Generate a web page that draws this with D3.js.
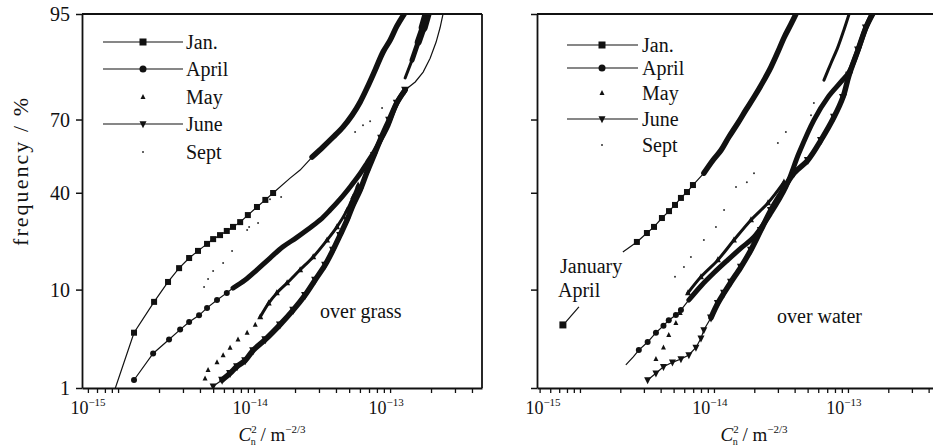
<!DOCTYPE html>
<html><head><meta charset="utf-8">
<script src="https://cdn.jsdelivr.net/npm/d3@7"></script>
<style>body{margin:0;background:#fff}svg{display:block}</style>
</head><body><script>
// ---------------- DATA (C2n in m^-2/3, cumulative frequency in %) ----------------
const yTicks = [1, 10, 40, 70, 95];
const xLabelExps = [-15, -14, -13];
const legendNames = ["Jan.", "April", "May", "June", "Sept"];
const seriesKeys = ["jan", "april", "may", "june", "sept"];

// over grass
const grassJanPlain = [[8.9e-16,0.7],[1.84e-14,46.1],[2.18e-14,49.5]];
const grassJanMarks = [[1.31e-15,4.1],[1.84e-15,7.9],[2.33e-15,11.5],[2.81e-15,14.6],[3.33e-15,17.2],[3.87e-15,19.2],[4.51e-15,21.3],[5.0e-15,22.8],[5.62e-15,24.1],[6.3e-15,25.5],[7.0e-15,26.9],[7.9e-15,28.6],[9.0e-15,31.2],[1.05e-14,34.3],[1.21e-14,37.1],[1.38e-14,39.9]];
const grassJanBand = [[2.67e-14,55.0],[3.21e-14,59.2],[3.81e-14,63.2],[4.51e-14,67.2],[5.26e-14,71.6],[6.02e-14,76.1],[6.77e-14,80.5],[7.76e-14,85.3],[8.89e-14,89.3],[1.0e-13,91.4],[1.12e-13,93.5],[1.27e-13,95]];

const grassAprilMarks = [[1.31e-15,1.25],[1.81e-15,2.5],[2.37e-15,3.5],[2.86e-15,4.4],[3.33e-15,5.2],[3.94e-15,6.0],[4.51e-15,7.0],[5.34e-15,8.2],[6.3e-15,9.4]];
const grassAprilBand = [[7.0e-15,10.3],[8.59e-15,11.9],[1.05e-14,14.2],[1.31e-14,17.2],[1.63e-14,20.4],[2.04e-14,23.2],[2.45e-14,25.8],[3.06e-14,29.4],[3.62e-14,33.1],[4.29e-14,37.4],[5.08e-14,42.4],[5.92e-14,47.4],[6.77e-14,52.5],[7.76e-14,57.9],[8.73e-14,63.2],[9.67e-14,67.9],[1.12e-13,75.8],[1.29e-13,79.9]];

const grassMayMarks = [[4.36e-15,1.3],[4.59e-15,1.64],[5.34e-15,2.0],[5.92e-15,2.4],[6.66e-15,2.87],[7.62e-15,3.5],[8.89e-15,4.1],[1.02e-14,4.9]];
const grassMayBand = [[1.11e-14,5.8],[1.28e-14,7.7],[1.47e-14,9.4],[1.75e-14,11.3],[2.18e-14,14.2],[2.72e-14,17.5],[3.44e-14,22.5],[4.07e-14,26.9],[4.83e-14,33.1],[5.35e-14,38.3],[5.82e-14,43.2]];

const grassJuneMarks = [[5.0e-15,1.05]];
const grassJuneBand = [[5.82e-15,1.25],[6.66e-15,1.5],[7.5e-15,1.8],[8.6e-15,2.1],[9.84e-15,2.7],[1.21e-14,3.5],[1.55e-14,4.9],[1.94e-14,6.7],[2.37e-14,9.0],[2.81e-14,11.9],[3.33e-14,15.4],[3.81e-14,19.5],[4.29e-14,24.1],[4.83e-14,29.4],[5.35e-14,35.1],[6.02e-14,41.1],[6.77e-14,48.7],[7.62e-14,55.8],[8.59e-14,62.9],[9.84e-14,69.8],[1.12e-13,75.8],[1.29e-13,79.9]];
const grassJunePlain = [[1.53e-13,82.2],[1.75e-13,84.8],[1.97e-13,88.0],[2.18e-13,91.1],[2.33e-13,93.3],[2.45e-13,95]];

const grassSeptMarks = [[4.29e-15,10.5],[4.59e-15,12.1],[5.0e-15,13.9],[5.92e-15,15.9],[6.89e-15,19.2],[8.89e-15,25.8],[9.2e-15,26.9],[1.07e-14,28.3],[1.31e-14,37.4],[1.58e-14,38.3],[5.53e-14,65.2],[6.32e-14,67.9],[7.13e-14,69.4],[8.73e-14,74.1]];
const grassSeptBand = [[1.29e-13,83.3],[1.45e-13,87.6],[1.61e-13,91.1],[1.75e-13,93.3],[1.87e-13,95]];

// over water
const waterJanPlain = [[2.09e-15,18.9]];
const waterJanMarks = [[2.66e-15,21.9],[3.16e-15,24.8],[3.57e-15,26.9],[4.09e-15,30.1],[4.62e-15,32.7],[5.12e-15,35.1],[5.67e-15,37.9],[6.29e-15,40.3],[6.97e-15,43.2]];
const waterJanBand = [[8.41e-15,48.2],[9.84e-15,53.7],[1.13e-14,57.9],[1.29e-14,63.2],[1.51e-14,68.7],[1.73e-14,73.4],[1.99e-14,77.7],[2.32e-14,82.2],[2.66e-14,86.0],[3.0e-14,89.3],[3.33e-14,91.8],[3.76e-14,93.8],[4.09e-14,95]];

const waterAprilPlain = [[2.20e-15,1.87],[2.5e-15,2.3]];
const waterAprilMarks = [[2.75e-15,2.72],[3.2e-15,3.3],[3.69e-15,4.1],[4.2e-15,4.8],[4.6e-15,5.4],[5.2e-15,6.05],[5.67e-15,6.7]];
const waterAprilBand = [[6.5e-15,8.2],[8.0e-15,10.7],[1.0e-14,13.5],[1.27e-14,16.7],[1.59e-14,20.0],[1.99e-14,23.5],[2.66e-14,32.0],[3.44e-14,42.4],[4.31e-14,56.7],[5.57e-14,69.8],[7.1e-14,77.7],[8.87e-14,82.2],[1.02e-13,84.8],[1.19e-13,89.7],[1.36e-13,93.3],[1.51e-13,95]];

const waterMayMarks = [[3.69e-15,2.18],[4.2e-15,2.9],[4.6e-15,3.9],[5.2e-15,5.1],[5.6e-15,6.3]];
const waterMayBand = [[6.4e-15,9.4],[8.0e-15,12.6],[1.07e-14,16.7],[1.41e-14,22.5],[1.89e-14,29.4],[2.53e-14,35.9],[3.33e-14,44.4]];

const waterJuneMarks = [[3.2e-15,1.25],[3.69e-15,1.5],[4.2e-15,1.78],[4.9e-15,2.0],[5.67e-15,2.18],[6.5e-15,2.41],[7.34e-15,2.9],[8.0e-15,3.6],[8.4e-15,4.36]];
const waterJuneBand = [[9.5e-15,5.7],[1.07e-14,7.7],[1.19e-14,9.4],[1.34e-14,11.5],[1.59e-14,14.9],[1.89e-14,19.5],[2.24e-14,25.8],[2.66e-14,33.1],[3.27e-14,41.1],[3.95e-14,48.2],[5.02e-14,53.7],[6.29e-14,62.0],[7.87e-14,70.9],[9.18e-14,77.7],[1.02e-13,84.1],[1.19e-13,89.7],[1.36e-13,93.3],[1.53e-13,95]];

const waterSeptMarks = [[5.12e-15,12.6],[5.97e-15,14.9],[6.73e-15,17.5],[8.41e-15,22.5],[1.035e-14,26.9],[1.19e-14,33.1],[1.46e-14,42.4],[1.76e-14,44.4],[1.99e-14,48.2],[3.0e-14,60.8],[3.44e-14,65.2],[5.3e-14,71.6],[5.57e-14,75.8]];
const waterSeptBand = [[6.62e-14,82.7],[7.47e-14,86.9],[8.41e-14,90.2],[9.33e-14,93.0],[1.02e-13,95]];

const waterJanAprilPoint = [7.46e-16, 4.88];

// ---------------- RENDER ----------------
const F = "'Liberation Serif','Times New Roman',serif";
const INK = "#111";
const W = 933, H = 447, yTop = 14, yBot = 388;

function probit(p){
  const a=[-3.969683028665376e+01,2.209460984245205e+02,-2.759285104469687e+02,1.383577518672690e+02,-3.066479806614716e+01,2.506628277459239e+00];
  const b=[-5.447609879822406e+01,1.615858368580409e+02,-1.556989798598866e+02,6.680131188771972e+01,-1.328068155288572e+01];
  const c=[-7.784894002430293e-03,-3.223964580411365e-01,-2.400758277161838e+00,-2.549732539343734e+00,4.374664141464968e+00,2.938163982698783e+00];
  const d=[7.784695709041462e-03,3.224671290700398e-01,2.445134137142996e+00,3.754408661907416e+00];
  const pl=0.02425; let q,r;
  if(p<pl){q=Math.sqrt(-2*Math.log(p));return (((((c[0]*q+c[1])*q+c[2])*q+c[3])*q+c[4])*q+c[5])/((((d[0]*q+d[1])*q+d[2])*q+d[3])*q+1);}
  if(p>1-pl){q=Math.sqrt(-2*Math.log(1-p));return -(((((c[0]*q+c[1])*q+c[2])*q+c[3])*q+c[4])*q+c[5])/((((d[0]*q+d[1])*q+d[2])*q+d[3])*q+1);}
  q=p-0.5;r=q*q;return (((((a[0]*r+a[1])*r+a[2])*r+a[3])*r+a[4])*r+a[5])*q/(((((b[0]*r+b[1])*r+b[2])*r+b[3])*r+b[4])*r+1);
}
const ys = d3.scaleLinear().domain([probit(0.01), probit(0.95)]).range([yBot, yTop]);
const Y = p => ys(probit(p/100));

const style = {
  jan:   {shape:"square", size:6,  line:true,  band:5.5, bandMarks:false},
  april: {shape:"circle", size:6,  line:true,  band:5,   bandMarks:false},
  may:   {shape:"up",     size:5,  line:false, band:3,   bandMarks:true},
  june:  {shape:"down",   size:7,  line:true,  band:5.5, bandMarks:true},
  sept:  {shape:"dot",    size:2,  line:false, band:3,   bandMarks:false}
};

const panels = [
  {id:"grass", x0:82, x1:482, dom:[5.43e-16,4.74e-13], yLabels:true, rightBorder:true, titleX:272,
   data:{jan:{plain:grassJanPlain,marks:grassJanMarks,band:grassJanBand},
         april:{marks:grassAprilMarks,band:grassAprilBand},
         may:{marks:grassMayMarks,band:grassMayBand},
         june:{marks:grassJuneMarks,band:grassJuneBand,plain:grassJunePlain},
         sept:{marks:grassSeptMarks,band:grassSeptBand}},
   taper:{sept:10},
   legend:{lx0:103,lx1:183,mx:143,tx:186,ys:[42,69,97,124,152]},
   label:{text:"over grass",x:320,y:318}},
  {id:"water", x0:537, x1:936, dom:[4.78e-16,4.54e-13], yLabels:false, rightBorder:true, titleX:754,
   data:{jan:{plain:waterJanPlain,marks:waterJanMarks,band:waterJanBand},
         april:{plain:waterAprilPlain,marks:waterAprilMarks,band:waterAprilBand},
         may:{marks:waterMayMarks,band:waterMayBand},
         june:{marks:waterJuneMarks,band:waterJuneBand},
         sept:{marks:waterSeptMarks,band:waterSeptBand}},
   taper:{},
   legend:{lx0:567,lx1:638,mx:602,tx:642,ys:[45,68,93,119,145]},
   label:{text:"over water",x:777,y:323}}
];

const svg = d3.select("body").append("svg").attr("width",W).attr("height",H);
const defs = svg.append("defs");

function marker(g, shape, cx, cy, s){
  if(shape==="square") g.append("rect").attr("x",cx-s/2).attr("y",cy-s/2).attr("width",s).attr("height",s).attr("fill",INK);
  else if(shape==="circle") g.append("circle").attr("cx",cx).attr("cy",cy).attr("r",s/2).attr("fill",INK);
  else if(shape==="dot") g.append("circle").attr("cx",cx).attr("cy",cy).attr("r",s/2).attr("fill","#333");
  else if(shape==="up") g.append("path").attr("d",`M${cx},${cy-s*0.6}L${cx-s/2},${cy+s*0.4}L${cx+s/2},${cy+s*0.4}Z`).attr("fill",INK);
  else if(shape==="down") g.append("path").attr("d",`M${cx-s/2},${cy-s*0.4}L${cx+s/2},${cy-s*0.4}L${cx},${cy+s*0.6}Z`).attr("fill",INK);
}

panels.forEach((P, pi) => {
  const x = d3.scaleLog().domain(P.dom).range([P.x0, P.x1]);
  const clipId = "clip"+pi;
  defs.append("clipPath").attr("id",clipId).append("rect")
    .attr("x",P.x0).attr("y",yTop).attr("width",P.x1-P.x0).attr("height",yBot-yTop);
  const g = svg.append("g").attr("clip-path",`url(#${clipId})`);
  const lin = d3.line().x(d=>x(d[0])).y(d=>Y(d[1]));
  const smooth = d3.line().x(d=>x(d[0])).y(d=>Y(d[1])).curve(d3.curveCatmullRom);

  seriesKeys.forEach(k => {
    const s = P.data[k], st = style[k];
    const all = [...(s.plain||[]), ...(s.marks||[]), ...(s.band||[])].sort((a,b)=>a[1]-b[1]);
    if(st.line) g.append("path").attr("d",lin(all)).attr("fill","none").attr("stroke",INK).attr("stroke-width",1.2);
    if(s.band && s.band.length){
      if(P.taper[k]){
        const n = s.band.length;
        for(let i=0;i<n-1;i++){
          g.append("path").attr("d",lin([s.band[i],s.band[i+1]])).attr("fill","none").attr("stroke",INK)
            .attr("stroke-width",P.taper[k]*(i+1.5)/n).attr("stroke-linecap","round");
        }
      } else {
        g.append("path").attr("d",smooth(s.band)).attr("fill","none").attr("stroke",INK)
          .attr("stroke-width",st.band).attr("stroke-linecap","round").attr("stroke-linejoin","round");
      }
      if(st.bandMarks) s.band.forEach(d=>marker(g, st.shape, x(d[0]), Y(d[1]), st.size+1));
    }
    (s.marks||[]).forEach(d=>marker(g, st.shape, x(d[0]), Y(d[1]), st.size));
  });

  // axes
  const minor = [];
  for(let e=-16;e<=-12;e++) for(let m=1;m<=9;m++){ const v=m*Math.pow(10,e); if(v>=P.dom[0]&&v<=P.dom[1]) minor.push(v); }
  const ax = svg.append("g").attr("transform",`translate(0,${yBot})`)
    .call(d3.axisBottom(x).tickValues(minor).tickFormat("").tickSize(5).tickSizeOuter(0));
  ax.select(".domain").attr("stroke",INK).attr("stroke-width",1.8);
  ax.selectAll(".tick line").attr("stroke",INK).attr("stroke-width",1.3);

  const ya = svg.append("g").attr("transform",`translate(${P.x0},0)`)
    .call(d3.axisLeft(ys).tickValues(yTicks.map(p=>probit(p/100)))
      .tickFormat((d,i)=>P.yLabels?String(yTicks[i]):"").tickSize(6).tickPadding(6).tickSizeOuter(0));
  ya.select(".domain").attr("stroke",INK).attr("stroke-width",1.8);
  ya.selectAll(".tick line").attr("stroke",INK).attr("stroke-width",1.5);
  ya.selectAll(".tick text").attr("font-family",F).attr("font-size",20).attr("fill",INK).attr("dy","0.33em");

  // frame
  svg.append("line").attr("x1",P.x0).attr("x2",P.x1).attr("y1",yTop).attr("y2",yTop).attr("stroke",INK).attr("stroke-width",1.8);
  if(P.rightBorder) svg.append("line").attr("x1",P.x1).attr("x2",P.x1).attr("y1",yTop).attr("y2",yBot).attr("stroke",INK).attr("stroke-width",1.8);

  // x tick labels (first label sits at the axis origin, as in the source figure)
  xLabelExps.forEach((e,i) => {
    const xp = i===0 ? P.x0 + 6 : x(Math.pow(10,e)) - 4;
    const t = svg.append("text").attr("x",xp).attr("y",414).attr("text-anchor","middle")
      .attr("font-family",F).attr("font-size",18).attr("fill",INK);
    t.append("tspan").text("10");
    t.append("tspan").attr("font-size",11).attr("dy",-8).text("\u2212"+(-e));
  });

  // x title
  const tt = svg.append("text").attr("x",P.titleX).attr("y",441).attr("text-anchor","middle")
    .attr("font-family",F).attr("font-size",19).attr("fill",INK);
  tt.append("tspan").attr("font-style","italic").text("C");
  tt.append("tspan").attr("font-size",11).attr("dy",-8).text("2");
  tt.append("tspan").attr("font-size",10).attr("dx",-6).attr("dy",12).text("n");
  tt.append("tspan").attr("dy",-4).text(" / m");
  tt.append("tspan").attr("font-size",11).attr("dy",-8).text("\u22122/3");

  // legend
  const L = P.legend;
  seriesKeys.forEach((k,i) => {
    const st = style[k], yy = L.ys[i];
    if(st.line) svg.append("line").attr("x1",L.lx0).attr("x2",L.lx1).attr("y1",yy).attr("y2",yy).attr("stroke",INK).attr("stroke-width",1.2);
    marker(svg, st.shape, L.mx, yy, k==="sept"?2:(k==="may"?5:7));
    svg.append("text").attr("x",L.tx).attr("y",yy).attr("dy","0.35em").attr("font-family",F).attr("font-size",20).attr("fill",INK).text(legendNames[i]);
  });

  svg.append("text").attr("x",P.label.x).attr("y",P.label.y).attr("font-family",F).attr("font-size",20).attr("fill",INK).text(P.label.text);

  if(P.id==="water"){
    const px = x(waterJanAprilPoint[0]), py = Y(waterJanAprilPoint[1]);
    marker(svg, "square", px, py, 7);
    svg.append("line").attr("x1",px+3).attr("y1",py-3).attr("x2",px+16).attr("y2",py-18).attr("stroke",INK).attr("stroke-width",1.2);
    svg.append("text").attr("x",560).attr("y",273).attr("font-family",F).attr("font-size",20).attr("fill",INK).text("January");
    svg.append("text").attr("x",558).attr("y",297).attr("font-family",F).attr("font-size",20).attr("fill",INK).text("April");
  }
});

// y-axis title
svg.append("text").attr("transform","translate(28,172) rotate(-90)").attr("text-anchor","middle")
  .attr("font-family",F).attr("font-size",22).attr("fill",INK)
  .attr("textLength",148).attr("lengthAdjust","spacing").text("frequency / %");
</script></body></html>
